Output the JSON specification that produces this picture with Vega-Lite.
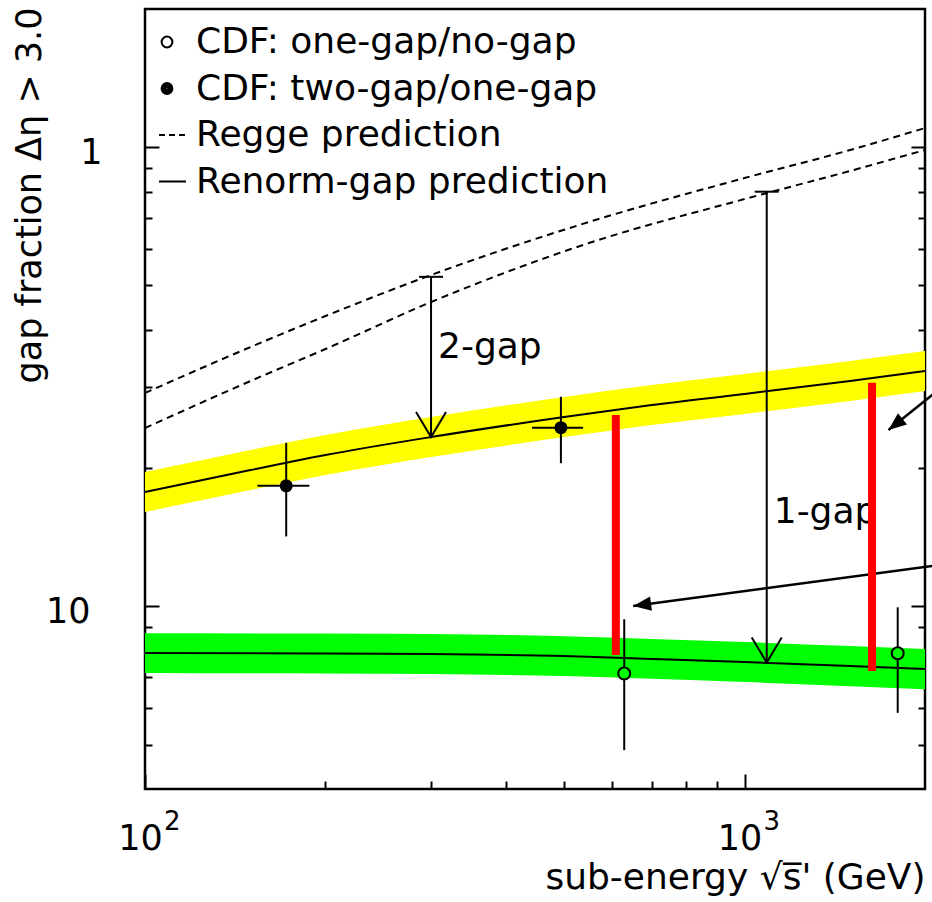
{
  "$schema": "https://vega.github.io/schema/vega-lite/v6.json",
  "width": 780,
  "height": 780,
  "autosize": "none",
  "padding": {"left": 145, "top": 9, "right": 7, "bottom": 113},
  "background": "white",
  "config": {
    "view": {"stroke": "black", "strokeWidth": 2.5},
    "font": "DejaVu Sans",
    "axis": {"domain": false, "grid": false, "tickColor": "black", "tickWidth": 2, "labelColor": "black", "titleColor": "black", "labelFont": "DejaVu Sans", "titleFont": "DejaVu Sans", "titleFontWeight": "normal"},
    "text": {"font": "DejaVu Sans", "color": "black"}
  },
  "datasets": {
    "yellow": [
      {"x": 100, "lo": 0.1605, "mid": 0.1774, "hi": 0.1961},
      {"x": 150, "lo": 0.1792, "mid": 0.1981, "hi": 0.2190},
      {"x": 200, "lo": 0.1932, "mid": 0.2136, "hi": 0.2361},
      {"x": 300, "lo": 0.2114, "mid": 0.2337, "hi": 0.2584},
      {"x": 500, "lo": 0.2337, "mid": 0.2584, "hi": 0.2857},
      {"x": 700, "lo": 0.2483, "mid": 0.2745, "hi": 0.3035},
      {"x": 1000, "lo": 0.2624, "mid": 0.2901, "hi": 0.3207},
      {"x": 1500, "lo": 0.2801, "mid": 0.3096, "hi": 0.3423},
      {"x": 2000, "lo": 0.2944, "mid": 0.3255, "hi": 0.3598}
    ],
    "green": [
      {"x": 100, "lo": 0.0716, "mid": 0.0791, "hi": 0.0874},
      {"x": 200, "lo": 0.0714, "mid": 0.0789, "hi": 0.0872},
      {"x": 300, "lo": 0.0712, "mid": 0.0787, "hi": 0.0870},
      {"x": 500, "lo": 0.0705, "mid": 0.0779, "hi": 0.0861},
      {"x": 700, "lo": 0.0695, "mid": 0.0768, "hi": 0.0849},
      {"x": 1000, "lo": 0.0684, "mid": 0.0756, "hi": 0.0836},
      {"x": 1500, "lo": 0.0670, "mid": 0.0741, "hi": 0.0819},
      {"x": 2000, "lo": 0.0660, "mid": 0.0730, "hi": 0.0807}
    ],
    "regge": [
      {"curve": "upper", "x": 100, "y": 0.2915},
      {"curve": "upper", "x": 150, "y": 0.3671},
      {"curve": "upper", "x": 200, "y": 0.4288},
      {"curve": "upper", "x": 300, "y": 0.5267},
      {"curve": "upper", "x": 550, "y": 0.6872},
      {"curve": "upper", "x": 1000, "y": 0.8567},
      {"curve": "upper", "x": 1500, "y": 0.986},
      {"curve": "upper", "x": 2000, "y": 1.101},
      {"curve": "lower", "x": 100, "y": 0.2445},
      {"curve": "lower", "x": 150, "y": 0.3096},
      {"curve": "lower", "x": 200, "y": 0.3634},
      {"curve": "lower", "x": 300, "y": 0.4600},
      {"curve": "lower", "x": 550, "y": 0.6183},
      {"curve": "lower", "x": 1000, "y": 0.7710},
      {"curve": "lower", "x": 1500, "y": 0.8877},
      {"curve": "lower", "x": 2000, "y": 0.9861}
    ],
    "varrows": [
      {"x": 300, "top": 0.522, "tip": 0.2337, "label": "2-gap", "ly": 0.3473},
      {"x": 1089, "top": 0.80, "tip": 0.0754, "label": "1-gap", "ly": 0.1518}
    ],
    "points": [
      {"kind": "filled", "x": 172, "y": 0.183, "ylo": 0.142, "yhi": 0.227, "xlo": 154, "xhi": 188},
      {"kind": "filled", "x": 494, "y": 0.245, "ylo": 0.205, "yhi": 0.286, "xlo": 442, "xhi": 538},
      {"kind": "open", "x": 630, "y": 0.0714, "ylo": 0.0486, "yhi": 0.0937},
      {"kind": "open", "x": 1801, "y": 0.0790, "ylo": 0.0586, "yhi": 0.0995}
    ],
    "red": [
      {"x": 610, "lo": 0.0783, "hi": 0.261},
      {"x": 1632, "lo": 0.0723, "hi": 0.307}
    ],
    "arrows": [
      {"id": "a1", "x": 2219, "y": 0.3128, "x2": 1738, "y2": 0.2421},
      {"id": "a2", "x": 2219, "y": 0.1241, "x2": 652, "y2": 0.1002}
    ],
    "xsup": [
      {"x": 100, "t": "2"},
      {"x": 1000, "t": "3"}
    ],
    "legend": [
      {"series": "CDF: one-gap/no-gap"},
      {"series": "CDF: two-gap/one-gap"},
      {"series": "Regge prediction"},
      {"series": "Renorm-gap prediction"}
    ]
  },
  "layer": [
    {
      "data": {"name": "yellow"},
      "mark": {"type": "area", "color": "#ffff00", "interpolate": "monotone"},
      "encoding": {
        "x": {"field": "x", "type": "quantitative", "scale": {"type": "log", "domain": [100, 2000], "nice": false},
          "axis": {
            "values": [100, 200, 300, 400, 500, 600, 700, 800, 900, 1000],
            "title": "sub-energy \u221As\u0305' (GeV)",
            "titleFontSize": 36, "titleX": 780, "titleY": 99, "titleAlign": "right", "titleBaseline": "alphabetic", "titleAngle": 0,
            "labelExpr": "datum.value == 100 || datum.value == 1000 ? '10' : ''",
            "labelFontSize": 35, "labelPadding": 75, "labelBaseline": "alphabetic", "labelAlign": "center", "labelOffset": -5,
            "labelFlush": false, "labelOverlap": false, "labelBound": false,
            "tickSize": {"condition": {"test": "datum.value == 100 || datum.value == 1000", "value": -15}, "value": -8}
          }},
        "y": {"field": "lo", "type": "quantitative", "scale": {"type": "log", "domain": [0.04, 2], "nice": false},
          "axis": {
            "values": [0.05, 0.06, 0.07, 0.08, 0.09, 0.1, 0.2, 0.3, 0.4, 0.5, 0.6, 0.7, 0.8, 0.9, 1],
            "title": "gap fraction \u0394\u03b7 > 3.0",
            "titleFontSize": 35, "titleAngle": -90, "titleX": -105, "titleY": -2, "titleAlign": "right", "titleBaseline": "alphabetic",
            "labelExpr": "datum.value == 1 ? '1' : (datum.value == 0.1 ? '10' : '')",
            "labelFontSize": 35, "labelBaseline": "alphabetic", "labelAlign": "right", "labelOffset": 16,
            "labelPadding": {"condition": {"test": "datum.value == 0.1", "value": 69}, "value": 57},
            "labelFlush": false, "labelOverlap": false, "labelBound": false,
            "tickSize": {"condition": {"test": "datum.value == 1 || datum.value == 0.1", "value": -14}, "value": -7}
          }},
        "y2": {"field": "hi"}
      }
    },
    {
      "data": {"name": "green"},
      "mark": {"type": "area", "color": "#00ff00", "interpolate": "monotone"},
      "encoding": {
        "x": {"field": "x", "type": "quantitative"},
        "y": {"field": "lo", "type": "quantitative",
          "axis": {
            "orient": "right",
            "values": [0.05, 0.06, 0.07, 0.08, 0.09, 0.1, 0.2, 0.3, 0.4, 0.5, 0.6, 0.7, 0.8, 0.9, 1],
            "title": null, "labels": false,
            "tickSize": {"condition": {"test": "datum.value == 1 || datum.value == 0.1", "value": -14}, "value": -7}
          }},
        "y2": {"field": "hi"}
      }
    },
    {
      "data": {"name": "yellow"},
      "mark": {"type": "line", "color": "black", "strokeWidth": 2, "interpolate": "monotone"},
      "encoding": {
        "x": {"field": "x", "type": "quantitative"},
        "y": {"field": "mid", "type": "quantitative", "axis": null}
      }
    },
    {
      "data": {"name": "green"},
      "mark": {"type": "line", "color": "black", "strokeWidth": 2, "interpolate": "monotone"},
      "encoding": {
        "x": {"field": "x", "type": "quantitative"},
        "y": {"field": "mid", "type": "quantitative", "axis": null}
      }
    },
    {
      "data": {"name": "regge"},
      "mark": {"type": "line", "color": "black", "strokeWidth": 2, "strokeDash": [7, 5], "interpolate": "monotone"},
      "encoding": {
        "x": {"field": "x", "type": "quantitative"},
        "y": {"field": "y", "type": "quantitative", "axis": null},
        "detail": {"field": "curve", "type": "nominal"}
      }
    },
    {
      "data": {"name": "varrows"},
      "mark": {"type": "rule", "color": "black", "strokeWidth": 2},
      "encoding": {
        "x": {"field": "x", "type": "quantitative"},
        "y": {"field": "top", "type": "quantitative", "axis": null},
        "y2": {"field": "tip"}
      }
    },
    {
      "data": {"name": "varrows"},
      "mark": {"type": "point", "shape": "M-1,0L1,0", "size": 576, "filled": false, "color": "black", "strokeWidth": 2, "opacity": 1},
      "encoding": {
        "x": {"field": "x", "type": "quantitative"},
        "y": {"field": "top", "type": "quantitative", "axis": null}
      }
    },
    {
      "data": {"name": "varrows"},
      "mark": {"type": "point", "shape": "M-0.6,-1L0,0L0.6,-1", "size": 2500, "filled": false, "color": "black", "strokeWidth": 2, "opacity": 1},
      "encoding": {
        "x": {"field": "x", "type": "quantitative"},
        "y": {"field": "tip", "type": "quantitative", "axis": null}
      }
    },
    {
      "data": {"name": "varrows"},
      "mark": {"type": "text", "align": "left", "baseline": "alphabetic", "dx": 7, "fontSize": 36, "color": "black"},
      "encoding": {
        "x": {"field": "x", "type": "quantitative"},
        "y": {"field": "ly", "type": "quantitative", "axis": null},
        "text": {"field": "label"}
      }
    },
    {
      "data": {"name": "points"},
      "mark": {"type": "rule", "color": "black", "strokeWidth": 2},
      "encoding": {
        "x": {"field": "x", "type": "quantitative"},
        "y": {"field": "ylo", "type": "quantitative", "axis": null},
        "y2": {"field": "yhi"}
      }
    },
    {
      "data": {"name": "points"},
      "transform": [{"filter": "datum.kind == 'filled'"}],
      "mark": {"type": "rule", "color": "black", "strokeWidth": 2},
      "encoding": {
        "x": {"field": "xlo", "type": "quantitative"},
        "x2": {"field": "xhi"},
        "y": {"field": "y", "type": "quantitative", "axis": null}
      }
    },
    {
      "data": {"name": "points"},
      "transform": [{"filter": "datum.kind == 'filled'"}],
      "mark": {"type": "point", "shape": "circle", "filled": true, "color": "black", "size": 169, "opacity": 1},
      "encoding": {
        "x": {"field": "x", "type": "quantitative"},
        "y": {"field": "y", "type": "quantitative", "axis": null}
      }
    },
    {
      "data": {"name": "points"},
      "transform": [{"filter": "datum.kind == 'open'"}],
      "mark": {"type": "point", "shape": "circle", "filled": false, "fill": "#00ff00", "stroke": "black", "strokeWidth": 2, "size": 144, "opacity": 1},
      "encoding": {
        "x": {"field": "x", "type": "quantitative"},
        "y": {"field": "y", "type": "quantitative", "axis": null}
      }
    },
    {
      "data": {"name": "arrows"},
      "mark": {"type": "rule", "color": "black", "strokeWidth": 2.5, "clip": false},
      "encoding": {
        "x": {"field": "x", "type": "quantitative"},
        "x2": {"field": "x2"},
        "y": {"field": "y", "type": "quantitative", "axis": null},
        "y2": {"field": "y2"}
      }
    },
    {
      "data": {"name": "arrows"},
      "transform": [{"filter": "datum.id == 'a1'"}],
      "mark": {"type": "point", "shape": "M0,0L-0.4,1L0.4,1Z", "size": 1296, "filled": true, "color": "black", "angle": 231.3, "opacity": 1},
      "encoding": {
        "x": {"field": "x2", "type": "quantitative"},
        "y": {"field": "y2", "type": "quantitative", "axis": null}
      }
    },
    {
      "data": {"name": "arrows"},
      "transform": [{"filter": "datum.id == 'a2'"}],
      "mark": {"type": "point", "shape": "M0,0L-0.4,1L0.4,1Z", "size": 1296, "filled": true, "color": "black", "angle": 262.4, "opacity": 1},
      "encoding": {
        "x": {"field": "x2", "type": "quantitative"},
        "y": {"field": "y2", "type": "quantitative", "axis": null}
      }
    },
    {
      "data": {"name": "red"},
      "mark": {"type": "rule", "color": "#ff0000", "strokeWidth": 8, "strokeCap": "butt"},
      "encoding": {
        "x": {"field": "x", "type": "quantitative"},
        "y": {"field": "lo", "type": "quantitative", "axis": null},
        "y2": {"field": "hi"}
      }
    },
    {
      "data": {"name": "xsup"},
      "mark": {"type": "text", "align": "left", "baseline": "alphabetic", "dx": 19, "dy": 41, "fontSize": 26, "color": "black", "clip": false},
      "encoding": {
        "x": {"field": "x", "type": "quantitative"},
        "y": {"datum": 0.04, "type": "quantitative", "axis": null},
        "text": {"field": "t"}
      }
    },
    {
      "mark": {"type": "text", "align": "left", "baseline": "alphabetic", "dx": -40, "dy": -19, "fontSize": 20, "color": "black", "text": "-1", "clip": false},
      "encoding": {
        "x": {"datum": 100, "type": "quantitative"},
        "y": {"datum": 0.1, "type": "quantitative", "axis": null}
      }
    },
    {
      "data": {"name": "legend"},
      "mark": {"type": "point", "opacity": 0, "color": "black", "filled": false},
      "encoding": {
        "shape": {
          "field": "series", "type": "nominal",
          "scale": {
            "domain": ["CDF: one-gap/no-gap", "CDF: two-gap/one-gap", "Regge prediction", "Renorm-gap prediction"],
            "range": [
              "M-0.52,0A0.27,0.27 0 1,0 0.02,0A0.27,0.27 0 1,0 -0.52,0Z",
              "M-0.52,0A0.27,0.27 0 1,0 0.02,0A0.27,0.27 0 1,0 -0.52,0ZM-0.47,0A0.22,0.22 0 1,0 -0.03,0A0.22,0.22 0 1,0 -0.47,0ZM-0.42,0A0.17,0.17 0 1,0 -0.08,0A0.17,0.17 0 1,0 -0.42,0ZM-0.37,0A0.12,0.12 0 1,0 -0.13,0A0.12,0.12 0 1,0 -0.37,0ZM-0.32,0A0.07,0.07 0 1,0 -0.18,0A0.07,0.07 0 1,0 -0.32,0ZM-0.28,0A0.03,0.03 0 1,0 -0.22,0A0.03,0.03 0 1,0 -0.28,0Z",
              "M-0.65,0L-0.35,0M-0.15,0L0.15,0M0.35,0L0.65,0",
              "M-0.65,0L0.7,0"
            ]
          },
          "legend": {
            "orient": "none", "legendX": 6, "legendY": 12, "title": null,
            "labelFont": "DejaVu Sans", "labelFontSize": 36, "labelColor": "black", "labelLimit": 700,
            "symbolSize": 1600, "symbolStrokeWidth": 2, "symbolStrokeColor": "black", "symbolFillColor": "transparent", "symbolOpacity": 1,
            "labelOffset": 3, "rowPadding": 7.5, "padding": 0, "offset": 0
          }
        }
      }
    }
  ],
  "resolve": {"axis": {"y": "independent"}}
}
